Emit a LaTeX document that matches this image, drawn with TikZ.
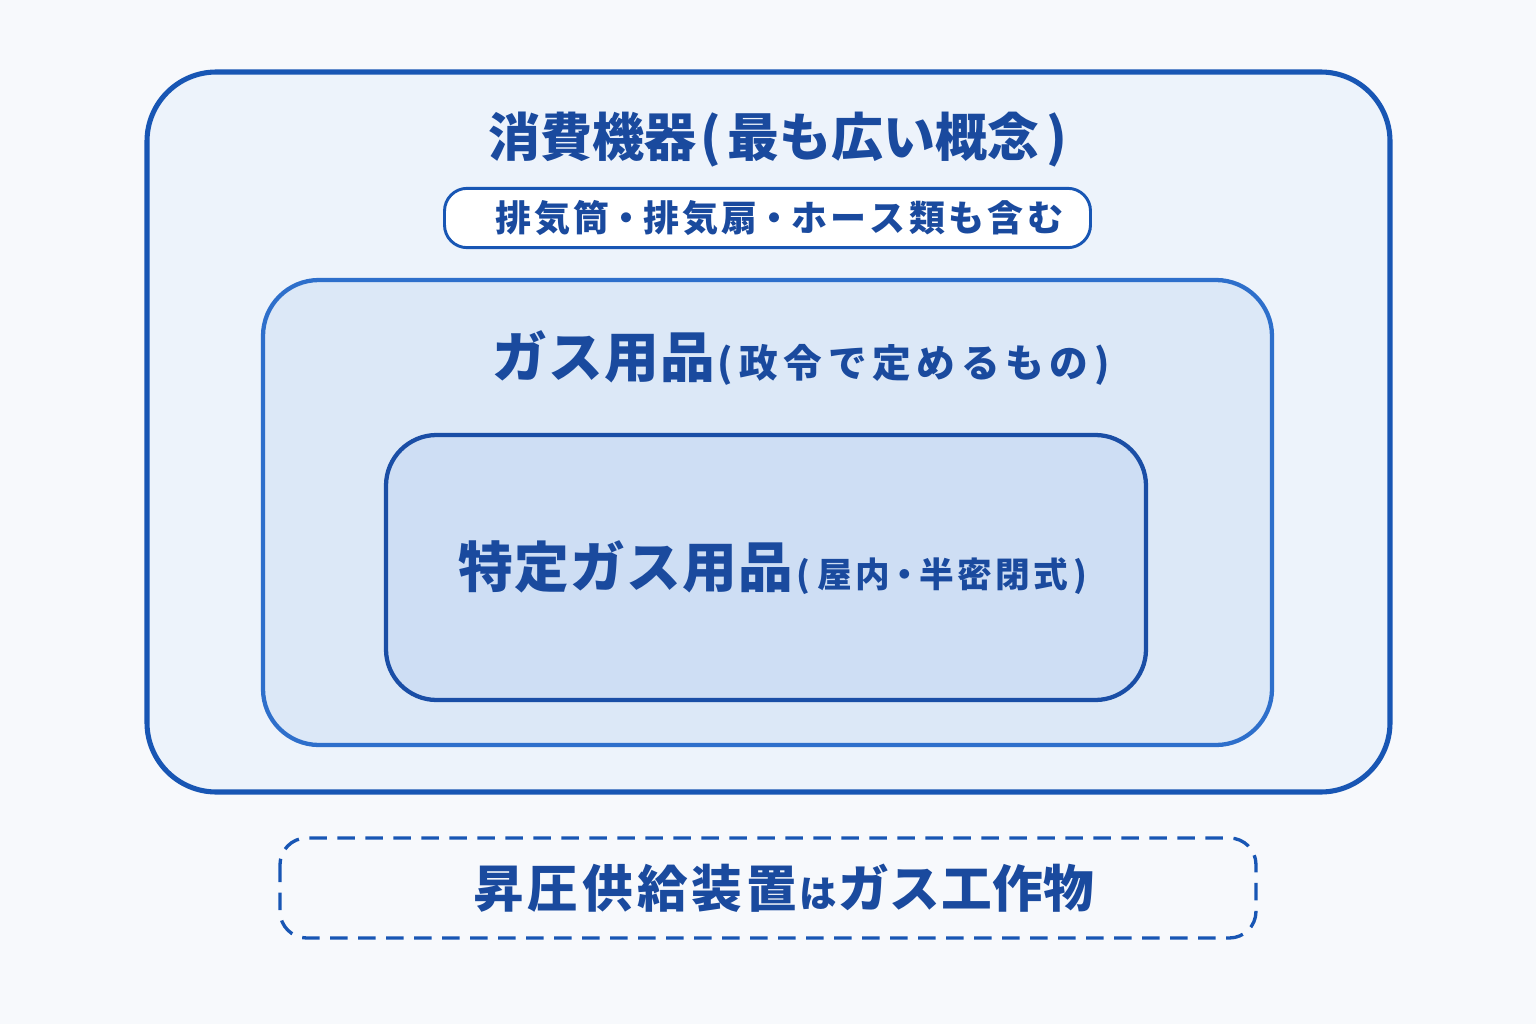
\documentclass[tikz,border=0pt]{standalone}
\usepackage{fontspec}
\setmainfont{Noto Sans CJK JP}
\definecolor{pagebg}{HTML}{F7F9FC}
\definecolor{outerline}{HTML}{1856B4}
\definecolor{outerfill}{HTML}{EDF3FB}
\definecolor{midline}{HTML}{2E6FCB}
\definecolor{midfill}{HTML}{DCE8F7}
\definecolor{innerline}{HTML}{1A4EA6}
\definecolor{innerfill}{HTML}{CEDEF4}
\definecolor{txt}{HTML}{1A4A9E}
\newcommand{\gp}[1]{\hspace{#1pt}}
\tikzset{
  ttl/.style={text=txt,font=\bfseries,inner sep=0pt,anchor=west},
}
\begin{document}
\begin{tikzpicture}[x=0.75pt,y=-0.75pt]
\fill[pagebg] (0,0) rectangle (1536,1024);
\useasboundingbox (0,0) rectangle (1536,1024);
% outer
\draw[outerline,fill=outerfill,line width=3.8pt,rounded corners=52pt] (147,72) rectangle (1390,792);
\node[ttl] (t1) at (488,140) {{\fontsize{39}{44}\selectfont 消費機器\gp{3}(\gp{5}最も広い概念\gp{5})}};
\node[draw=outerline,fill=white,line width=2.2pt,rounded corners=17pt,minimum width=484.5pt,minimum height=44.5pt,inner sep=0pt] (pill) at (767.5,218) {};
\node[ttl] (pt) at (495,218) {{\fontsize{27}{30}\selectfont 排\gp{2.5}気\gp{2.5}筒\gp{-1}・\gp{-1}排\gp{2.5}気\gp{2.5}扇\gp{-1}・\gp{-1}ホ\gp{2.5}ー\gp{2.5}ス\gp{2.5}類\gp{2.5}も\gp{2.5}含\gp{2.5}む}};
% middle
\draw[midline,fill=midfill,line width=3.2pt,rounded corners=42pt] (263,280) rectangle (1272,745);
\node[ttl] (t2) at (492,358) {{\fontsize{41}{44}\selectfont ガ\gp{1}ス\gp{1}用\gp{1}品}{\fontsize{29}{32}\selectfont \gp{2}(\gp{5}政\gp{4.2}令\gp{4.2}で\gp{4.2}定\gp{4.2}め\gp{4.2}る\gp{4.2}も\gp{4.2}の\gp{5})}};
% inner
\draw[innerline,fill=innerfill,line width=3.2pt,rounded corners=38pt] (386,435) rectangle (1146,700);
\node[ttl] (t3) at (458,568) {{\fontsize{41}{44}\selectfont 特\gp{1}定\gp{1}ガ\gp{1}ス\gp{1}用\gp{1}品}{\fontsize{26}{30}\selectfont \gp{3}(\gp{5}屋\gp{2.5}内\gp{-2}・\gp{-2}半\gp{2.5}密\gp{2.5}閉\gp{2.5}式\gp{4})}};
% dashed
\draw[outerline,line width=2.5pt,dash pattern=on 13pt off 8pt,rounded corners=20pt] (280,838) rectangle (1256,938);
\node[ttl] (t4) at (473,888) {{\fontsize{38}{42}\selectfont 昇\gp{3}圧\gp{3}供\gp{3}給\gp{3}装\gp{3}置}{\fontsize{28}{30}\selectfont \gp{2}は\gp{1}}{\fontsize{38}{42}\selectfont ガ\gp{0.5}ス\gp{0.5}工\gp{0.5}作\gp{0.5}物}};
\end{tikzpicture}
\end{document}
